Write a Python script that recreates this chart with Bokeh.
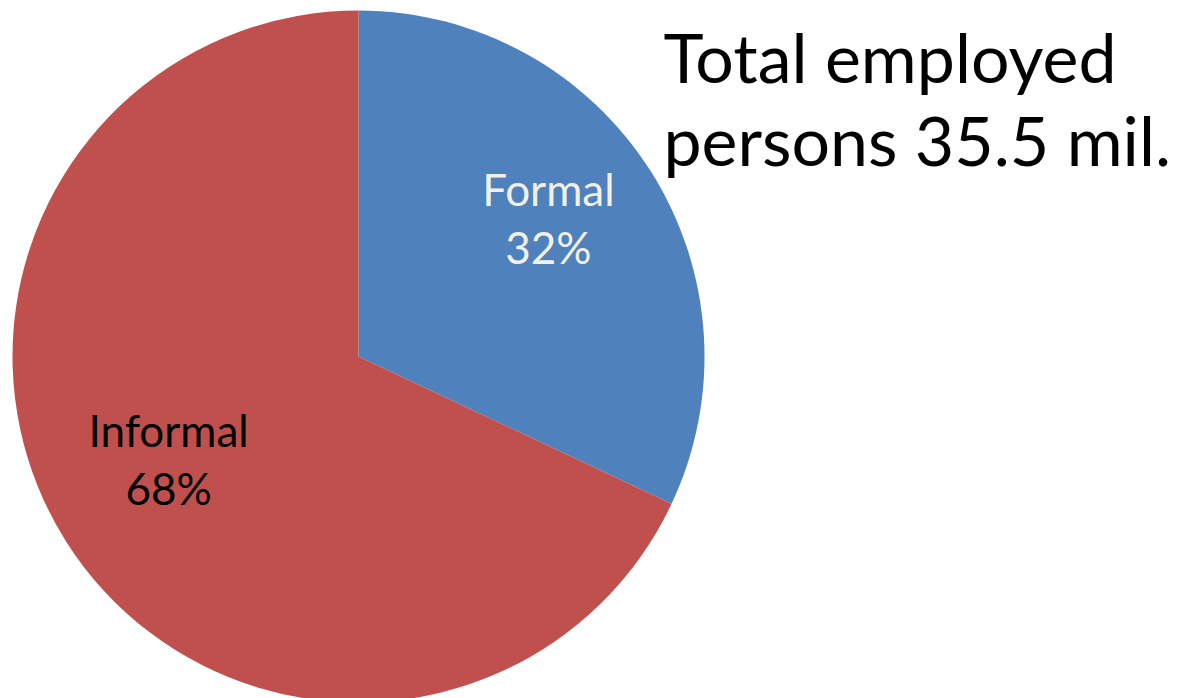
import math
from bokeh.plotting import figure
from bokeh.models import Range1d, ColumnDataSource
from bokeh.core.properties import value
from bokeh.embed import file_html
from bokeh.resources import INLINE

categories = ["Formal", "Informal"]
shares = [32, 68]
colors = ["#4F81BD", "#C0504D"]
label_colors = ["#F2F0E6", "#000000"]
title_lines = ["Total employed", "persons 35.5 mil."]

W, H = 1181, 698
p = figure(width=W, height=H, output_backend="svg", toolbar_location=None,
           x_range=Range1d(0, W), y_range=Range1d(-H, 0),
           min_border=0)
p.axis.visible = False
p.grid.visible = False
p.outline_line_color = None
p.background_fill_color = "white"

cx, cy, r = 358, -356, 346
total = sum(shares)
starts, ends, lx, ly, lab1, lab2 = [], [], [], [], [], []
a = math.pi / 2
for c, s in zip(categories, shares):
    sweep = 2 * math.pi * s / total
    starts.append(a - sweep)
    ends.append(a)
    mid = a - sweep / 2
    lx.append(cx + 0.65 * r * math.cos(mid))
    ly.append(cy + 0.65 * r * math.sin(mid))
    lab1.append(c)
    lab2.append(f"{s}%")
    a -= sweep

src = ColumnDataSource(dict(start=starts, end=ends, color=colors,
                            lx=lx, ly=ly, l1=lab1, l2=lab2, tc=label_colors))
p.wedge(x=cx, y=cy, radius=r, start_angle="start", end_angle="end",
        fill_color="color", line_color=None, source=src)

LF = 44
p.text(x="lx", y="ly", text="l1", text_color="tc", text_font=value("Lato"),
       text_font_size=f"{LF}px", text_align="center", text_baseline="middle",
       y_offset=-30 - 0.387 * LF, source=src)
p.text(x="lx", y="ly", text="l2", text_color="tc", text_font=value("Lato"),
       text_font_size=f"{LF}px", text_align="center", text_baseline="middle",
       y_offset=28 - 0.387 * LF, source=src)

TF = 68
p.text(x=[663, 663], y=[-82 + 0.387 * TF, -165 + 0.387 * TF], text=title_lines,
       text_color="black", text_font=value("Lato"), text_font_size=f"{TF}px",
       text_align="left", text_baseline="middle")

open("out.html", "w").write(file_html(p, INLINE))
